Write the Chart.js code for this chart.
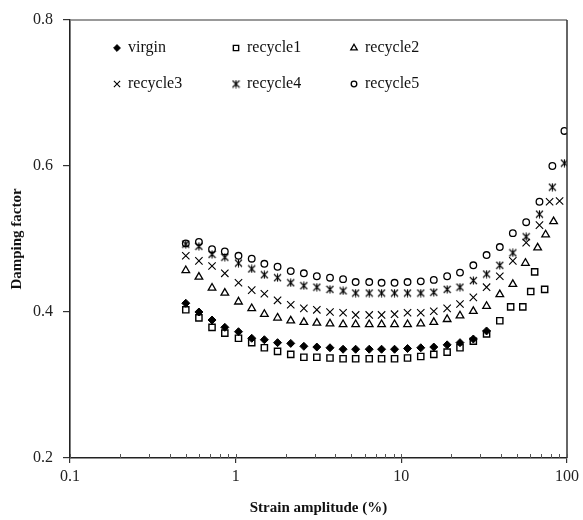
<!DOCTYPE html>
<html>
<head>
<meta charset="utf-8">
<script src="https://cdn.jsdelivr.net/npm/chart.js@4.4.0/dist/chart.umd.min.js"></script>
<style>
  html, body { margin: 0; padding: 0; background: #fff; }
  #wrap { width: 583px; height: 520px; }
</style>
</head>
<body>
<div id="wrap"><canvas id="dampingChart" width="583" height="520"></canvas></div>
<script>
// Strain amplitude (%) - common sweep points
const strain = [0.50, 0.60, 0.72, 0.86, 1.04, 1.25, 1.49, 1.79, 2.15, 2.58,
  3.09, 3.71, 4.45, 5.3, 6.4, 7.6, 9.1, 10.9, 13.1, 15.7,
  18.9, 22.6, 27.2, 32.7, 39.3, 47.1, 56.7, 68.2, 81.6, 96.5];

// Damping factor for each sample
const virgin = [0.412, 0.400, 0.389, 0.379, 0.373, 0.364, 0.362, 0.358, 0.357, 0.353,
  0.352, 0.351, 0.349, 0.349, 0.349, 0.349, 0.349, 0.350, 0.351, 0.352,
  0.355, 0.358, 0.363, 0.374];
const recycle1 = [0.403, 0.392, 0.379, 0.371, 0.364, 0.358, 0.351, 0.346, 0.342, 0.338,
  0.338, 0.337, 0.336, 0.336, 0.336, 0.336, 0.336, 0.337, 0.339, 0.342,
  0.345, 0.351, 0.360, 0.370, 0.388];
const recycle1TailStrain = [45.7, 54.1, 60.4, 73.3, 63.8];
const recycle1TailValues = [0.407, 0.407, 0.428, 0.431, 0.455];
const recycle2 = [0.457, 0.448, 0.433, 0.426, 0.414, 0.405, 0.397, 0.392, 0.388, 0.386,
  0.385, 0.384, 0.383, 0.383, 0.383, 0.383, 0.383, 0.383, 0.384, 0.386,
  0.390, 0.395, 0.401, 0.408, 0.424, 0.438];
const recycle2TailStrain = [56.1, 66.5, 74.3, 83.0];
const recycle2TailValues = [0.467, 0.488, 0.506, 0.524];
const recycle3 = [0.477, 0.470, 0.463, 0.453, 0.440, 0.430, 0.425, 0.416, 0.410, 0.405,
  0.403, 0.400, 0.399, 0.396, 0.396, 0.396, 0.397, 0.399, 0.399, 0.401,
  0.405, 0.411, 0.420, 0.434, 0.449, 0.470, 0.495, 0.519];
const recycle3TailStrain = [78.5, 90.2];
const recycle3TailValues = [0.551, 0.552];
const recycle4 = [0.493, 0.490, 0.479, 0.475, 0.467, 0.459, 0.451, 0.447, 0.440, 0.436,
  0.434, 0.431, 0.429, 0.426, 0.426, 0.426, 0.426, 0.426, 0.426, 0.427,
  0.431, 0.434, 0.443, 0.452, 0.464, 0.481, 0.503, 0.534, 0.571, 0.604];
const recycle5 = [0.494, 0.496, 0.486, 0.483, 0.477, 0.473, 0.466, 0.462, 0.456, 0.453,
  0.449, 0.447, 0.445, 0.441, 0.441, 0.440, 0.440, 0.441, 0.442, 0.444,
  0.449, 0.454, 0.464, 0.478, 0.489, 0.508, 0.523, 0.551, 0.600, 0.648];

const xTicks = [0.1, 1, 10, 100];
const yTicks = [0.2, 0.4, 0.6, 0.8];
const seriesNames = ['virgin', 'recycle1', 'recycle2', 'recycle3', 'recycle4', 'recycle5'];

function toPoints(xs, ys) {
  return ys.map((y, i) => ({ x: xs[i], y: y }));
}

// asterisk marker (x with a vertical bar), like the spreadsheet "star"
function makeStarMarker() {
  const c = document.createElement('canvas');
  c.width = 9; c.height = 9;
  const g = c.getContext('2d');
  g.strokeStyle = '#000';
  g.lineWidth = 1.1;
  g.beginPath();
  g.moveTo(1, 1); g.lineTo(8, 8);
  g.moveTo(8, 1); g.lineTo(1, 8);
  g.moveTo(4.5, 0.5); g.lineTo(4.5, 8.5);
  g.stroke();
  return c;
}
const starMarker = makeStarMarker();

const markerStyles = [
  { pointStyle: 'rectRot', radius: 4, backgroundColor: '#000', borderWidth: 1 },
  { pointStyle: 'rect', radius: 4.4, backgroundColor: 'rgba(0,0,0,0)', borderWidth: 1.4 },
  { pointStyle: 'triangle', radius: 4.4, backgroundColor: 'rgba(0,0,0,0)', borderWidth: 1.3 },
  { pointStyle: 'crossRot', radius: 5.2, backgroundColor: 'rgba(0,0,0,0)', borderWidth: 1.1 },
  { pointStyle: starMarker, radius: 5, backgroundColor: 'rgba(0,0,0,0)', borderWidth: 1.3 },
  { pointStyle: 'circle', radius: 3.3, backgroundColor: 'rgba(0,0,0,0)', borderWidth: 1.3 }
];

const seriesData = [
  toPoints(strain, virgin),
  toPoints(strain, recycle1).concat(toPoints(recycle1TailStrain, recycle1TailValues)),
  toPoints(strain, recycle2).concat(toPoints(recycle2TailStrain, recycle2TailValues)),
  toPoints(strain, recycle3).concat(toPoints(recycle3TailStrain, recycle3TailValues)),
  toPoints(strain, recycle4),
  toPoints(strain, recycle5)
];

const datasets = seriesNames.map((name, i) => ({
  label: name,
  data: seriesData[i],
  showLine: false,
  pointStyle: markerStyles[i].pointStyle,
  pointRadius: markerStyles[i].radius,
  pointHoverRadius: markerStyles[i].radius,
  pointBackgroundColor: markerStyles[i].backgroundColor,
  pointBorderColor: '#000',
  pointBorderWidth: markerStyles[i].borderWidth
}));

// legend drawn inside the plot, 3 columns x 2 rows
const insideLegend = {
  id: 'insideLegend',
  afterDatasetsDraw(chart) {
    const ctx = chart.ctx;
    const area = chart.chartArea;
    const colMarker = [47, 166, 284];
    const rowY = [28, 64];
    ctx.save();
    ctx.font = '16px "Liberation Serif", "DejaVu Serif", serif';
    ctx.textBaseline = 'middle';
    ctx.fillStyle = '#111';
    seriesNames.forEach((name, i) => {
      const mx = area.left + colMarker[i % 3];
      const my = area.top + rowY[Math.floor(i / 3)];
      const st = markerStyles[i];
      ctx.strokeStyle = '#000';
      ctx.fillStyle = st.backgroundColor;
      ctx.lineWidth = st.borderWidth;
      Chart.helpers.drawPoint(ctx, {
        pointStyle: st.pointStyle, radius: st.radius * 0.85, rotation: 0, borderWidth: st.borderWidth
      }, mx, my);
      ctx.fillStyle = '#111';
      ctx.fillText(name, mx + 11, my);
    });
    ctx.restore();
  }
};

// box frame and minor log ticks
const frameAndMinorTicks = {
  id: 'frameAndMinorTicks',
  afterDraw(chart) {
    const ctx = chart.ctx;
    const a = chart.chartArea;
    const xs = chart.scales.x;
    ctx.save();
    ctx.lineWidth = 1.5;
    ctx.strokeStyle = '#777';
    ctx.beginPath();
    ctx.moveTo(a.left, a.top); ctx.lineTo(a.right, a.top);
    ctx.stroke();
    ctx.strokeStyle = '#333';
    ctx.beginPath();
    ctx.moveTo(a.right, a.top); ctx.lineTo(a.right, a.bottom);
    ctx.stroke();
    ctx.lineWidth = 1;
    ctx.strokeStyle = '#555';
    ctx.beginPath();
    [0.1, 1, 10].forEach(d => {
      for (let k = 2; k <= 9; k++) {
        const px = Math.round(xs.getPixelForValue(k * d)) + 0.5;
        ctx.moveTo(px, a.bottom);
        ctx.lineTo(px, a.bottom - 4);
      }
    });
    xTicks.forEach(v => {
      const px = Math.round(xs.getPixelForValue(v)) + 0.5;
      ctx.moveTo(px, a.bottom);
      ctx.lineTo(px, a.bottom - 4);
    });
    ctx.stroke();
    ctx.restore();
  }
};

const tickFont = { family: '"Liberation Serif", "DejaVu Serif", serif', size: 16 };
const titleFont = { family: '"Liberation Serif", "DejaVu Serif", serif', size: 15, weight: 'bold' };

new Chart(document.getElementById('dampingChart').getContext('2d'), {
  type: 'scatter',
  data: { datasets: datasets },
  options: {
    responsive: false,
    animation: false,
    layout: { padding: { top: 20, right: 13, left: 0, bottom: 0 } },
    plugins: {
      legend: { display: false },
      tooltip: { enabled: false }
    },
    scales: {
      x: {
        type: 'logarithmic',
        min: 0.1,
        max: 100,
        afterFit(scale) { scale.height = 62; },
        afterBuildTicks(scale) { scale.ticks = xTicks.map(v => ({ value: v })); },
        ticks: {
          color: '#222',
          font: tickFont,
          padding: 4,
          maxRotation: 0,
          autoSkip: false,
          callback: v => String(v)
        },
        grid: { drawOnChartArea: false, drawTicks: true, tickLength: 5, color: '#333', lineWidth: 1.2 },
        border: { display: true, color: '#222', width: 1.6 },
        title: { display: true, text: 'Strain amplitude (%)', color: '#111', font: titleFont, padding: { top: 0, bottom: 3 } }
      },
      y: {
        min: 0.2,
        max: 0.8,
        afterFit(scale) { scale.width = 70; },
        afterBuildTicks(scale) { scale.ticks = yTicks.map(v => ({ value: v })); },
        ticks: {
          color: '#222',
          font: tickFont,
          padding: 10,
          callback: v => v.toFixed(1)
        },
        grid: { drawOnChartArea: false, drawTicks: true, tickLength: 7, color: '#333', lineWidth: 1.2 },
        border: { display: true, color: '#222', width: 1.6 },
        title: { display: true, text: 'Damping factor', color: '#111', font: titleFont, padding: { top: 8, bottom: 0 } }
      }
    }
  },
  plugins: [insideLegend, frameAndMinorTicks]
});
</script>
</body>
</html>
